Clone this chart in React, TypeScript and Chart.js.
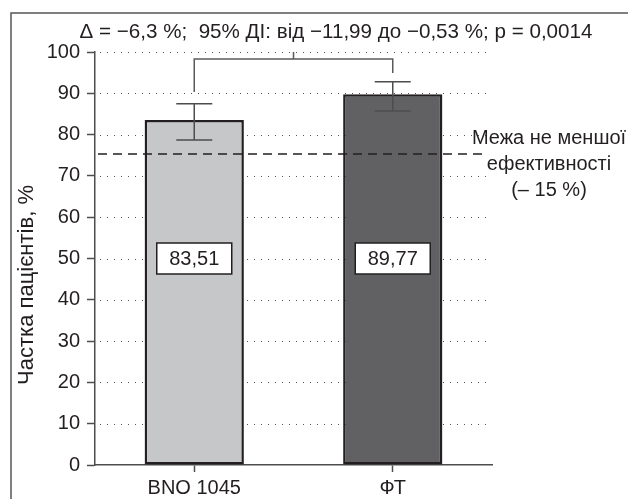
import React, { useEffect, useRef } from 'react';
import { Chart, registerables } from 'chart.js';

Chart.register(...registerables);

const categories = ['BNO 1045', 'ФТ'];
const shares = [83.51, 89.77];
const ciLow = [78.7, 85.7];
const ciHigh = [87.5, 92.8];
const valueLabels = ['83,51', '89,77'];
const labelLevel = 50;
const marginLevel = 75.3;
const bracketLevel = 98.3;
const bracketLegEnds = [90.3, 94.9];
const bracketTickTop = 100;
const gridLevels = [10, 20, 30, 40, 50, 60, 70, 80, 90, 100];
const titleText = 'Δ = −6,3 %;  95% ДІ: від −11,99 до −0,53 %; p = 0,0014';
const marginNote = ['Межа не меншої', 'ефективності', '(– 15 %)'];
const yAxisTitle = 'Частка пацієнтів, %';

const FONT = '"Liberation Sans", Arial, Helvetica, sans-serif';
const TEXT = '#231f20';

const decorPlugin = {
  id: 'decor',
  beforeDraw(chart: any) {
    const ctx = chart.ctx;
    ctx.save();
    ctx.strokeStyle = '#555555';
    ctx.lineWidth = 1.5;
    ctx.beginPath();
    ctx.moveTo(11, 499);
    ctx.lineTo(11, 13);
    ctx.lineTo(628, 13);
    ctx.stroke();
    ctx.restore();
  },
  beforeDatasetsDraw(chart: any) {
    const { ctx, chartArea, scales } = chart;
    const y = scales.y;
    ctx.save();
    ctx.strokeStyle = '#555555';
    ctx.lineWidth = 1;
    ctx.setLineDash([1, 6]);
    gridLevels.forEach((v) => {
      const py = Math.round(y.getPixelForValue(v)) + 0.5;
      ctx.beginPath();
      ctx.moveTo(chartArea.left + 5, py);
      ctx.lineTo(chartArea.right - 4, py);
      ctx.stroke();
    });
    ctx.restore();
  },
  afterDatasetsDraw(chart: any) {
    const { ctx, chartArea, scales } = chart;
    const x = scales.x;
    const y = scales.y;
    ctx.save();
    // non-inferiority margin
    const my = y.getPixelForValue(marginLevel);
    ctx.strokeStyle = '#231f20';
    ctx.lineWidth = 1.5;
    ctx.setLineDash([9, 6]);
    ctx.beginPath();
    ctx.moveTo(chartArea.left + 3, my);
    ctx.lineTo(chartArea.right - 9, my);
    ctx.stroke();
    ctx.setLineDash([]);

    // error bars
    ctx.strokeStyle = '#4d4d4d';
    ctx.lineWidth = 1.5;
    categories.forEach((c, i) => {
      const cx = x.getPixelForValue(i);
      const lo = y.getPixelForValue(ciLow[i]);
      const hi = y.getPixelForValue(ciHigh[i]);
      ctx.beginPath();
      ctx.moveTo(cx, lo);
      ctx.lineTo(cx, hi);
      ctx.moveTo(cx - 18, lo);
      ctx.lineTo(cx + 18, lo);
      ctx.moveTo(cx - 18, hi);
      ctx.lineTo(cx + 18, hi);
      ctx.stroke();
    });

    // bracket
    const x0 = x.getPixelForValue(0);
    const x1 = x.getPixelForValue(1);
    const by = y.getPixelForValue(bracketLevel);
    ctx.strokeStyle = '#5a5a5a';
    ctx.lineWidth = 1.5;
    ctx.beginPath();
    ctx.moveTo(x0, y.getPixelForValue(bracketLegEnds[0]));
    ctx.lineTo(x0, by);
    ctx.lineTo(x1, by);
    ctx.lineTo(x1, y.getPixelForValue(bracketLegEnds[1]));
    const mx = (x0 + x1) / 2;
    ctx.moveTo(mx, by);
    ctx.lineTo(mx, y.getPixelForValue(bracketTickTop));
    ctx.stroke();

    // value boxes
    const ly = y.getPixelForValue(labelLevel);
    ctx.font = `20px ${FONT}`;
    ctx.textAlign = 'center';
    ctx.textBaseline = 'middle';
    valueLabels.forEach((t, i) => {
      const cx = x.getPixelForValue(i);
      ctx.fillStyle = '#ffffff';
      ctx.fillRect(cx - 37.5, ly - 15.5, 75, 31);
      ctx.strokeStyle = '#231f20';
      ctx.lineWidth = 1.5;
      ctx.strokeRect(cx - 37.5, ly - 15.5, 75, 31);
      ctx.fillStyle = TEXT;
      ctx.fillText(t, cx, ly + 1);
    });
    ctx.restore();
  },
  afterDraw(chart: any) {
    const { ctx, scales } = chart;
    const y = scales.y;
    ctx.save();
    ctx.fillStyle = TEXT;
    ctx.textAlign = 'center';
    ctx.textBaseline = 'middle';
    ctx.font = `20.6px ${FONT}`;
    ctx.fillText(titleText, 336, 32);

    ctx.font = `20px ${FONT}`;
    const my = y.getPixelForValue(marginLevel);
    marginNote.forEach((t, i) => {
      ctx.fillText(t, 549, my - 16 + i * 26);
    });

    ctx.font = `22px ${FONT}`;
    ctx.translate(27, 285);
    ctx.rotate(-Math.PI / 2);
    ctx.fillText(yAxisTitle, 0, 0);
    ctx.restore();
  },
};

export default function App() {
  const ref = useRef<HTMLCanvasElement | null>(null);
  useEffect(() => {
    if (!ref.current) return;
    const chart = new Chart(ref.current, {
      type: 'bar',
      data: {
        labels: categories,
        datasets: [
          {
            data: shares,
            backgroundColor: ['#c6c7c9', '#616163'],
            borderColor: '#231f20',
            borderWidth: 2.5,
            borderSkipped: false,
            categoryPercentage: 1,
            barPercentage: 0.5,
          },
        ],
      },
      options: {
        responsive: false,
        animation: false,
        layout: { padding: { left: 0, top: 52, right: 142, bottom: 0 } },
        plugins: {
          legend: { display: false },
          tooltip: { enabled: false },
          title: { display: false },
        },
        scales: {
          x: {
            type: 'category',
            offset: true,
            grid: {
              offset: false,
              drawOnChartArea: false,
              drawTicks: true,
              tickLength: 7,
              tickColor: '#4d4d4d',
              tickWidth: 1.5,
            },
            border: { display: true, color: '#4d4d4d', width: 1.5 },
            ticks: { color: TEXT, font: { family: FONT, size: 20 }, padding: 4 },
            afterFit: (s: any) => {
              s.height = 34;
            },
          },
          y: {
            min: 0,
            max: 100,
            grid: {
              drawOnChartArea: false,
              drawTicks: true,
              tickLength: 8,
              tickColor: '#4d4d4d',
              tickWidth: 1.5,
            },
            border: { display: true, color: '#4d4d4d', width: 1.5 },
            ticks: { stepSize: 10, color: TEXT, font: { family: FONT, size: 20 }, padding: 7 },
            afterFit: (s: any) => {
              s.width = 95;
            },
          },
        },
      },
      plugins: [decorPlugin],
    });
    return () => chart.destroy();
  }, []);
  return (
    <div style={{ position: 'fixed', left: 0, top: 0, width: 634, height: 499, background: '#fff' }}>
      <canvas ref={ref} width={634} height={499} style={{ display: 'block' }} />
    </div>
  );
}
